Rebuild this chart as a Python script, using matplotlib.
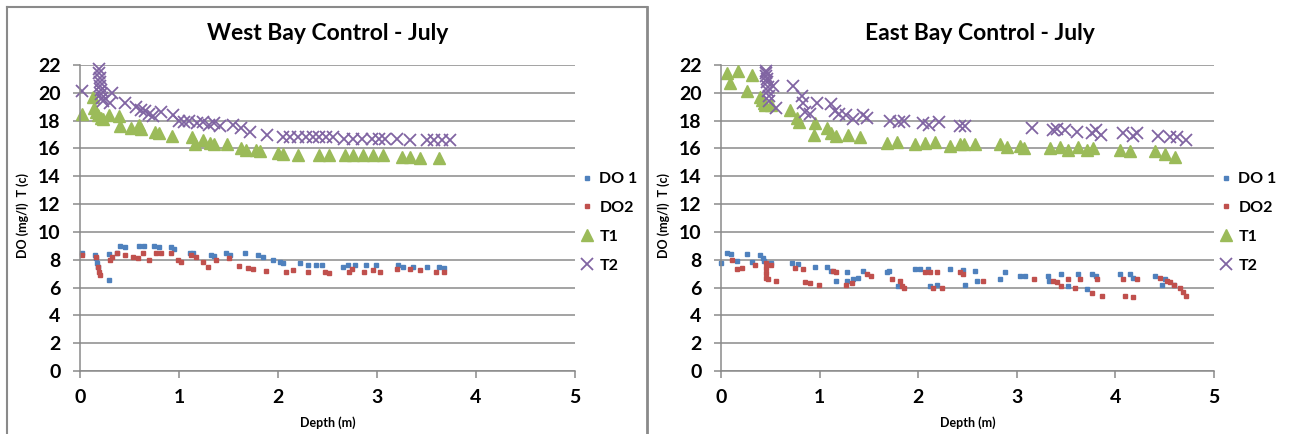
import matplotlib
matplotlib.use("Agg")
import matplotlib.pyplot as plt
from matplotlib.lines import Line2D

plt.rcParams['font.family'] = ['Lato', 'DejaVu Sans']
plt.rcParams['font.weight'] = 'bold'

# ---------------- data: West Bay ----------------
w_do1_d = [0.02, 0.15, 0.16, 0.17, 0.18, 0.29, 0.29, 0.37, 0.40, 0.45, 0.60, 0.65, 0.75, 0.80, 0.92, 0.95,
           1.11, 1.14, 1.32, 1.35, 1.47, 1.52, 1.67, 1.80, 1.85, 1.95, 2.02, 2.05, 2.22, 2.30, 2.38, 2.44,
           2.66, 2.71, 2.78, 2.89, 2.99, 3.21, 3.26, 3.36, 3.50, 3.63, 3.68]
w_do1_v = [8.5, 8.35, 8.1, 7.75, 7.5, 6.55, 8.4, 8.45, 9.0, 8.95, 9.0, 9.0, 9.0, 8.9, 8.95, 8.8,
           8.45, 8.45, 8.35, 8.3, 8.45, 8.35, 8.45, 8.35, 8.2, 8.0, 7.85, 7.75, 7.75, 7.6, 7.6, 7.6,
           7.45, 7.6, 7.6, 7.6, 7.6, 7.6, 7.5, 7.5, 7.45, 7.45, 7.4]
w_do2_d = [0.02, 0.16, 0.18, 0.19, 0.20, 0.32, 0.30, 0.37, 0.45, 0.54, 0.59, 0.64, 0.70, 0.77, 0.82, 0.92,
           0.99, 1.02, 1.12, 1.17, 1.24, 1.29, 1.37, 1.51, 1.61, 1.70, 1.75, 1.88, 2.08, 2.15, 2.30, 2.47,
           2.52, 2.72, 2.75, 2.87, 2.96, 3.03, 3.20, 3.33, 3.43, 3.60, 3.68]
w_do2_v = [8.35, 8.2, 7.5, 7.15, 6.9, 8.2, 7.95, 8.5, 8.35, 8.2, 8.1, 8.45, 7.95, 8.5, 8.5, 8.45,
           7.95, 7.85, 8.35, 8.2, 7.85, 7.5, 7.95, 8.1, 7.55, 7.4, 7.3, 7.2, 7.15, 7.25, 7.15, 7.1,
           7.05, 7.1, 7.3, 7.15, 7.25, 7.1, 7.35, 7.3, 7.25, 7.15, 7.15]
w_t1_d = [0.02, 0.13, 0.14, 0.16, 0.18, 0.21, 0.23, 0.29, 0.39, 0.40, 0.52, 0.60, 0.62, 0.76, 0.80, 0.93,
          1.13, 1.16, 1.24, 1.31, 1.35, 1.48, 1.63, 1.68, 1.78, 1.82, 2.00, 2.05, 2.20, 2.41, 2.52, 2.68,
          2.76, 2.86, 2.96, 3.06, 3.25, 3.33, 3.43, 3.63]
w_t1_v = [18.5, 19.7, 18.9, 18.6, 18.4, 18.2, 18.1, 18.4, 18.3, 17.6, 17.5, 17.7, 17.4, 17.2, 17.1, 16.9,
          16.8, 16.3, 16.6, 16.4, 16.3, 16.3, 16.0, 15.9, 15.9, 15.8, 15.7, 15.6, 15.5, 15.5, 15.5, 15.5,
          15.5, 15.5, 15.5, 15.5, 15.4, 15.4, 15.3, 15.3]
w_t2_d = [0.02, 0.19, 0.19, 0.20, 0.20, 0.20, 0.21, 0.21, 0.22, 0.23, 0.32, 0.30, 0.45, 0.57, 0.62, 0.66,
          0.70, 0.74, 0.82, 0.94, 1.00, 1.05, 1.10, 1.18, 1.24, 1.30, 1.35, 1.41, 1.55, 1.63, 1.72, 1.89,
          2.05, 2.12, 2.20, 2.28, 2.35, 2.41, 2.48, 2.56, 2.67, 2.76, 2.85, 2.95, 3.02, 3.08, 3.20, 3.33,
          3.50, 3.58, 3.66, 3.74]
w_t2_v = [20.1, 21.7, 21.4, 21.1, 20.8, 20.5, 20.2, 19.9, 19.6, 19.4, 20.0, 19.3, 19.3, 19.0, 18.8, 18.7,
          18.5, 18.3, 18.6, 18.4, 18.0, 17.9, 18.0, 17.8, 17.9, 17.7, 17.8, 17.6, 17.7, 17.5, 17.2, 17.0,
          16.8, 16.8, 16.8, 16.8, 16.8, 16.8, 16.8, 16.8, 16.7, 16.7, 16.7, 16.7, 16.7, 16.7, 16.7, 16.6,
          16.6, 16.6, 16.6, 16.6]

# ---------------- data: East Bay ----------------
e_do1_d = [0.00, 0.06, 0.10, 0.16, 0.26, 0.31, 0.40, 0.43, 0.44, 0.51, 0.72, 0.78, 0.95, 1.08, 1.12, 1.17,
           1.28, 1.28, 1.34, 1.39, 1.44, 1.68, 1.70, 1.80, 1.97, 2.02, 2.10, 2.12, 2.19, 2.32, 2.45, 2.47,
           2.58, 2.60, 2.83, 2.88, 3.03, 3.08, 3.32, 3.33, 3.45, 3.52, 3.62, 3.71, 3.76, 3.80, 4.05, 4.15,
           4.18, 4.40, 4.47, 4.50, 4.59]
e_do1_v = [7.8, 8.45, 8.4, 7.9, 8.4, 7.85, 8.35, 8.1, 7.9, 7.8, 7.8, 7.7, 7.45, 7.45, 7.2, 6.5,
           7.1, 6.5, 6.6, 6.7, 7.2, 7.1, 7.2, 6.1, 7.35, 7.3, 7.35, 6.1, 6.2, 7.35, 7.25, 6.2,
           7.2, 6.5, 6.6, 7.1, 6.8, 6.8, 6.8, 6.5, 7.0, 6.1, 7.0, 5.9, 7.0, 6.85, 7.0, 7.0,
           6.7, 6.85, 6.2, 6.6, 6.2]
e_do2_d = [0.11, 0.16, 0.21, 0.34, 0.46, 0.46, 0.46, 0.46, 0.48, 0.51, 0.56, 0.75, 0.83, 0.85, 0.90, 0.99,
           1.14, 1.17, 1.27, 1.33, 1.48, 1.52, 1.73, 1.82, 1.84, 1.86, 2.07, 2.12, 2.15, 2.19, 2.24, 2.42,
           2.45, 2.66, 3.17, 3.37, 3.41, 3.45, 3.52, 3.59, 3.64, 3.76, 3.81, 3.86, 4.08, 4.10, 4.18, 4.22,
           4.45, 4.52, 4.55, 4.59, 4.66, 4.69, 4.72]
e_do2_v = [8.0, 7.35, 7.4, 7.6, 7.75, 7.4, 7.05, 6.7, 6.6, 7.6, 6.5, 7.4, 7.3, 6.4, 6.3, 6.2,
           7.2, 7.1, 6.2, 6.3, 7.0, 6.85, 6.6, 6.5, 6.1, 6.0, 7.1, 7.1, 6.0, 7.1, 6.0, 7.1,
           7.0, 6.5, 6.6, 6.5, 6.4, 6.1, 6.6, 6.0, 6.6, 5.6, 6.6, 5.4, 6.6, 5.4, 5.3, 6.6,
           6.7, 6.5, 6.4, 6.2, 6.0, 5.7, 5.4]
e_t1_d = [0.06, 0.09, 0.17, 0.26, 0.31, 0.40, 0.42, 0.44, 0.45, 0.51, 0.70, 0.77, 0.79, 0.94, 0.95, 1.07,
          1.12, 1.17, 1.29, 1.41, 1.68, 1.78, 1.97, 2.07, 2.17, 2.32, 2.42, 2.46, 2.58, 2.83, 2.90, 3.03,
          3.07, 3.34, 3.44, 3.52, 3.62, 3.71, 3.77, 4.05, 4.15, 4.40, 4.50, 4.60]
e_t1_v = [21.4, 20.7, 21.6, 20.1, 21.3, 19.7, 19.5, 19.3, 19.1, 19.1, 18.8, 18.2, 17.9, 17.0, 17.8, 17.5,
          17.1, 16.9, 17.0, 16.8, 16.4, 16.5, 16.3, 16.4, 16.5, 16.2, 16.3, 16.3, 16.3, 16.3, 16.1, 16.2,
          16.0, 16.0, 16.1, 15.9, 16.1, 15.9, 16.0, 15.9, 15.8, 15.8, 15.6, 15.4]
e_t2_d = [0.46, 0.46, 0.46, 0.47, 0.47, 0.48, 0.48, 0.49, 0.53, 0.56, 0.49, 0.73, 0.82, 0.83, 0.85, 0.90,
          0.97, 1.12, 1.16, 1.20, 1.27, 1.34, 1.44, 1.48, 1.71, 1.81, 1.86, 2.05, 2.11, 2.21, 2.42, 2.47,
          3.15, 3.37, 3.41, 3.49, 3.61, 3.76, 3.80, 3.85, 4.08, 4.18, 4.22, 4.43, 4.55, 4.62, 4.72]
e_t2_v = [21.6, 21.4, 21.2, 21.0, 20.8, 20.4, 20.1, 19.8, 20.5, 18.9, 19.4, 20.5, 19.8, 19.3, 18.6, 18.5,
          19.3, 19.2, 18.7, 18.5, 18.4, 18.1, 18.4, 18.2, 18.0, 17.9, 18.0, 17.8, 17.7, 17.9, 17.6, 17.6,
          17.5, 17.3, 17.4, 17.3, 17.2, 17.1, 17.3, 17.0, 17.1, 16.9, 17.1, 16.9, 16.8, 16.8, 16.6]

titles = ["West Bay Control - July", "East Bay Control - July"]
labels = ["DO 1", "DO2", "T1", "T2"]
xticks = [0, 1, 2, 3, 4, 5]
yticks = list(range(0, 23, 2))

C_DO1 = '#4F81BD'
C_DO2 = '#C0504D'
C_T1 = '#9BBB59'
C_T2 = '#8064A2'
GRID = '#8a8a8a'

W, H = 1294, 434
fig = plt.figure(figsize=(W / 100, H / 100), dpi=100)

panels = [
    (80, 575, 65, 371, (w_do1_d, w_do1_v), (w_do2_d, w_do2_v), (w_t1_d, w_t1_v), (w_t2_d, w_t2_v), 328, 23),
    (721, 1214, 65, 371, (e_do1_d, e_do1_v), (e_do2_d, e_do2_v), (e_t1_d, e_t1_v), (e_t2_d, e_t2_v), 980, 664),
]

for i, (x0, x1, y0, y1, do1, do2, t1, t2, tx, ylx) in enumerate(panels):
    ax = fig.add_axes([x0 / W, 1 - y1 / H, (x1 - x0) / W, (y1 - y0) / H])
    ax.set_xlim(0, 5)
    ax.set_ylim(0, 22)
    ax.set_xticks(xticks)
    ax.set_yticks(yticks)
    ax.yaxis.grid(True, color=GRID, lw=1.1)
    ax.set_axisbelow(True)
    for s in ['top', 'right']:
        ax.spines[s].set_visible(False)
    for s in ['left', 'bottom']:
        ax.spines[s].set_color(GRID)
        ax.spines[s].set_linewidth(1.1)
    ax.tick_params(axis='both', colors=GRID, length=5, width=1.1, labelcolor='black', labelsize=14)
    ax.tick_params(axis='x', pad=8)
    ax.tick_params(axis='y', pad=9)
    for lab in ax.get_xticklabels() + ax.get_yticklabels():
        lab.set_fontweight('bold')

    h1, = ax.plot(do1[0], do1[1], ls='none', marker='s', ms=2.6, color=C_DO1, mec=C_DO1, clip_on=False)
    h2, = ax.plot(do2[0], do2[1], ls='none', marker='s', ms=2.6, color=C_DO2, mec=C_DO2, clip_on=False)
    h3, = ax.plot(t1[0], t1[1], ls='none', marker='^', ms=9, color=C_T1, mec=C_T1, clip_on=False)
    h4, = ax.plot(t2[0], t2[1], ls='none', marker='x', ms=8, mew=1.3, color=C_T2, clip_on=False)

    leg = ax.legend([h1, h2, h3, h4], labels, loc='upper left',
                    bbox_to_anchor=((x1 + 6 - x0) / (x1 - x0), (y1 - 172) / (y1 - y0)),
                    frameon=False, handlelength=0.8, handletextpad=0.35, labelspacing=0.92,
                    borderaxespad=0, borderpad=0, prop={'weight': 'bold', 'size': 11.5})

    fig.text(tx / W, 1 - 34 / H, titles[i], ha='center', va='center', fontsize=16.5, fontweight='bold')
    fig.text(ylx / W, 1 - 216 / H, "DO (mg/l)  T (c)", rotation=90, ha='center', va='center',
             fontsize=9, fontweight='bold')
    fig.text((x0 + x1) / 2 / W, 1 - 423 / H, "Depth (m)", ha='center', va='center',
             fontsize=9, fontweight='bold')

# panel frame of the left chart
frame_c = '#8a8a8a'
fig.add_artist(Line2D([7 / W, 7 / W], [0, 1 - 7 / H], color=frame_c, lw=1.5, transform=fig.transFigure))
fig.add_artist(Line2D([7 / W, 647 / W], [1 - 7 / H, 1 - 7 / H], color=frame_c, lw=1.5, transform=fig.transFigure))
fig.add_artist(Line2D([647 / W, 647 / W], [0, 1 - 7 / H], color=frame_c, lw=2.0, transform=fig.transFigure))

fig.savefig("out.png", dpi=100, facecolor='white')
